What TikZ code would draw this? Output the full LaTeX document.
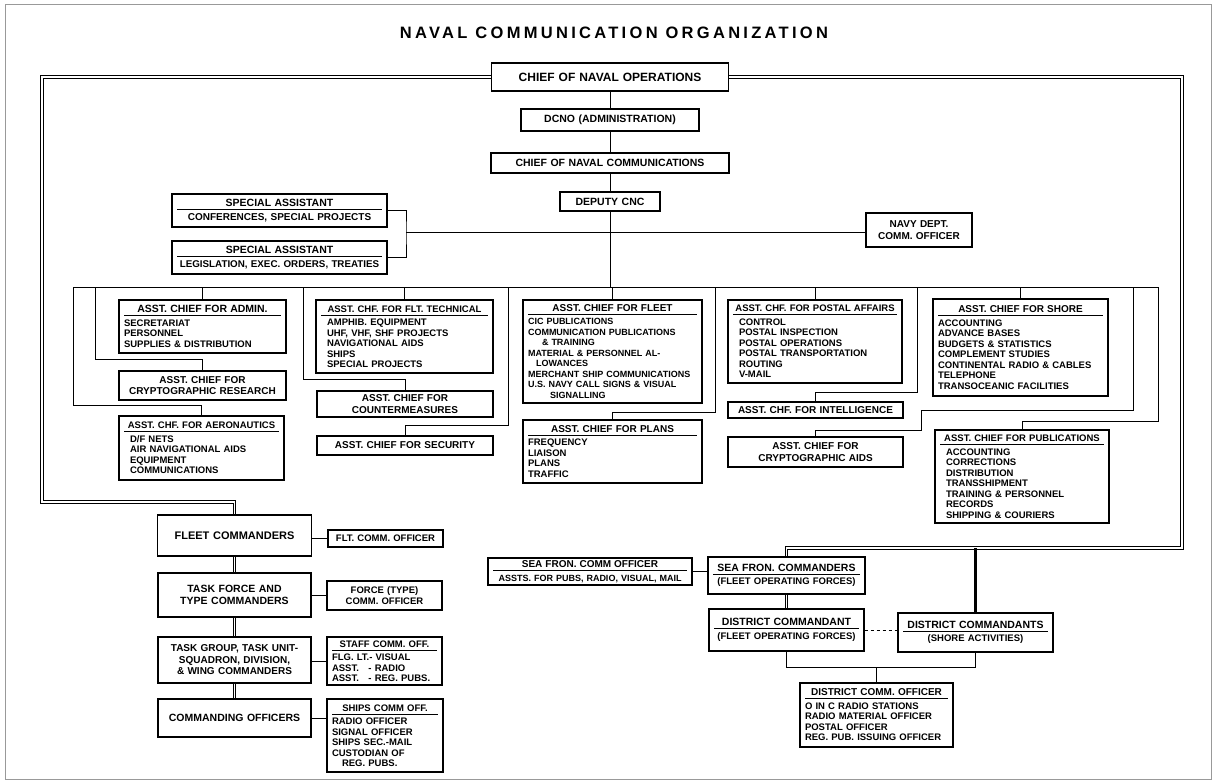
\documentclass[tikz,border=0pt]{standalone}
\usepackage{fontspec}
\setmainfont{Liberation Sans}
\newfontfamily\headfont{Liberation Sans}[LetterSpace=20]
\newcommand{\hd}[2][10]{\rlap{\rule[-3.2pt]{\hsize}{0.7pt}}\makebox[\hsize]{\fontsize{#1}{#1}\selectfont#2}\\[3pt]}
\newcommand{\ind}{\hspace*{6pt}}
\tikzset{
  bx/.style 2 args={draw, line width=1.1pt, inner xsep=5pt, inner ysep=1pt,
    text width=#1pt, minimum height=#2pt, align=center,
    font=\bfseries\fontsize{9.5}{10.5}\selectfont},
  lst/.style={align=left},
  sml/.style={font=\bfseries\fontsize{9}{10.5}\selectfont},
  big/.style={font=\bfseries\fontsize{10.5}{12.5}\selectfont},
  mid/.style={font=\bfseries\fontsize{10}{11.5}\selectfont},
  ln/.style={line width=1pt},
  dbl/.style={double, line width=0.9pt, double distance=1.8pt},
}

\begin{document}
\begin{tikzpicture}[x=1pt,y=-1pt]
\useasboundingbox (0,0) rectangle (1216,784);
\draw[black!40, line width=1pt] (5,5) rectangle (1211,779);
\node (ttl) at (614,33) {\headfont\bfseries\fontsize{16.5}{18}\selectfont NAVAL COMMUNICATION ORGANIZATION};

\node[bx={227}{28}, font=\bfseries\fontsize{12}{14}\selectfont] (cno) at (610,77) {CHIEF OF NAVAL OPERATIONS};
\node[bx={168}{22}, big] (dcno) at (610,120) {DCNO (ADMINISTRATION)};
\node[bx={228}{20}, big] (cnc) at (610,163) {CHIEF OF NAVAL COMMUNICATIONS};
\node[bx={90}{19}, big] (dep) at (610,201.5) {DEPUTY CNC};

\node[bx={205}{33}, mid] (sa1) at (279.5,210.5) {\hd[10.5]{SPECIAL ASSISTANT}CONFERENCES, SPECIAL PROJECTS};
\node[bx={205}{33}, font=\bfseries\fontsize{9.8}{11}\selectfont] (sa2) at (279.5,257.5) {\hd[10.5]{SPECIAL ASSISTANT}LEGISLATION, EXEC. ORDERS, TREATIES};
\node[bx={96}{34}, mid] (navy) at (919,230) {NAVY DEPT.\\COMM. OFFICER};

\node[bx={157}{53}, lst] (admin) at (202.5,326.5) {\hd[10.5]{ASST. CHIEF FOR ADMIN.}SECRETARIAT\\PERSONNEL\\SUPPLIES \& DISTRIBUTION};
\node[bx={157}{29}, mid] (cres) at (202.5,385.5) {ASST. CHIEF FOR\\CRYPTOGRAPHIC RESEARCH};
\node[bx={155}{64}, lst] (aero) at (201.5,448) {\hd[9.5]{ASST. CHF. FOR AERONAUTICS}\ind D/F NETS\\\ind AIR NAVIGATIONAL AIDS\\\ind EQUIPMENT\\\ind COMMUNICATIONS};

\node[bx={167}{73}, lst] (ftech) at (404.5,336.5) {\hd[9.5]{ASST. CHF. FOR FLT. TECHNICAL}\ind AMPHIB. EQUIPMENT\\\ind UHF, VHF, SHF PROJECTS\\\ind NAVIGATIONAL AIDS\\\ind SHIPS\\\ind SPECIAL PROJECTS};
\node[bx={166}{26}, mid] (cmeas) at (405,404) {ASST. CHIEF FOR\\COUNTERMEASURES};
\node[bx={166}{19}, mid] (sec) at (405,445.5) {ASST. CHIEF FOR SECURITY};

\node[bx={169}{103}, lst, sml] (fleet) at (612.5,351.5) {\hd[10]{ASST. CHIEF FOR FLEET}CIC PUBLICATIONS\\COMMUNICATION PUBLICATIONS\\\hspace*{14pt}\& TRAINING\\MATERIAL \& PERSONNEL AL-\\\hspace*{8pt}LOWANCES\\MERCHANT SHIP COMMUNICATIONS\\U.S. NAVY CALL SIGNS \& VISUAL\\\hspace*{22pt}SIGNALLING};
\node[bx={169}{63}, lst] (plans) at (612.5,451.5) {\hd[10]{ASST. CHIEF FOR PLANS}FREQUENCY\\LIAISON\\PLANS\\TRAFFIC};

\node[bx={164}{83}, lst] (postal) at (815,341.5) {\hd[9.5]{ASST. CHF. FOR POSTAL AFFAIRS}\ind CONTROL\\\ind POSTAL INSPECTION\\\ind POSTAL OPERATIONS\\\ind POSTAL TRANSPORTATION\\\ind ROUTING\\\ind V-MAIL};
\node[bx={165}{16}, mid] (intel) at (815.5,410) {ASST. CHF. FOR INTELLIGENCE};
\node[bx={165}{30}, mid] (caids) at (815.5,452) {ASST. CHIEF FOR\\CRYPTOGRAPHIC AIDS};

\node[bx={165}{97}, lst] (shore) at (1020.5,347.5) {\hd[10]{ASST. CHIEF FOR SHORE}ACCOUNTING\\ADVANCE BASES\\BUDGETS \& STATISTICS\\COMPLEMENT STUDIES\\CONTINENTAL RADIO \& CABLES\\TELEPHONE\\TRANSOCEANIC FACILITIES};
\node[bx={164}{93}, lst] (pubs) at (1022,476.5) {\hd[9.5]{ASST. CHIEF FOR PUBLICATIONS}\ind ACCOUNTING\\\ind CORRECTIONS\\\ind DISTRIBUTION\\\ind TRANSSHIPMENT\\\ind TRAINING \& PERSONNEL\\\ind RECORDS\\\ind SHIPPING \& COURIERS};

\node[bx={144}{41}, font=\bfseries\fontsize{11}{13}\selectfont] (fcdr) at (234.5,535.5) {FLEET COMMANDERS};
\node[bx={105}{17}] (fltco) at (385.5,538.5) {FLT. COMM. OFFICER};
\node[bx={143}{44}, big] (tforce) at (234.5,595) {TASK FORCE AND\\TYPE COMMANDERS};
\node[bx={105}{29}] (fco) at (384.5,595.5) {FORCE (TYPE)\\COMM. OFFICER};
\node[bx={143}{46}, mid] (tgroup) at (234.5,660) {TASK GROUP, TASK UNIT-\\SQUADRON, DIVISION,\\\& WING COMMANDERS};
\node[bx={105}{48}, lst] (staff) at (384.5,661) {\hd[9.5]{STAFF COMM. OFF.}FLG. LT.- VISUAL\\ASST.\quad- RADIO\\ASST.\quad- REG. PUBS.};
\node[bx={143}{38}, big] (cmdo) at (234.5,718) {COMMANDING OFFICERS};
\node[bx={106}{73}, lst] (ships) at (385,735.5) {\hd[9.5]{SHIPS COMM OFF.}RADIO OFFICER\\SIGNAL OFFICER\\SHIPS SEC.-MAIL\\CUSTODIAN OF\\\hspace*{10pt}REG. PUBS.};

\node[bx={147}{37}] (sfc) at (786.5,575.5) {\hd[10.5]{SEA FRON. COMMANDERS}(FLEET OPERATING FORCES)};
\node[bx={194}{27}, sml] (sfo) at (590,571.5) {\hd[10]{SEA FRON. COMM OFFICER}ASSTS. FOR PUBS, RADIO, VISUAL, MAIL};
\node[bx={145}{42}] (dcdt) at (786.5,630) {\hd[10.5]{DISTRICT COMMANDANT}(FLEET OPERATING FORCES)};
\node[bx={145}{39}] (dcts) at (975.5,632.5) {\hd[10.5]{DISTRICT COMMANDANTS}(SHORE ACTIVITIES)};
\node[bx={143}{64}, lst] (dco) at (876.5,715) {\hd[10]{DISTRICT COMM. OFFICER}O IN C RADIO STATIONS\\RADIO MATERIAL OFFICER\\POSTAL OFFICER\\REG. PUB. ISSUING OFFICER};

\coordinate (frL) at (42,502);
\coordinate (frR) at (1182,548);
\coordinate (sak) at (406,232);
\foreach \n/\x in {a/73,b/95,c/303,d/508,e/715,f/917,g/1133,h/1158}
  \coordinate (bus\n) at (\x,287);

\draw[ln] (cno) -- (dcno) (dcno) -- (cnc) (cnc) -- (dep);
\draw[ln] (dep) -- (dep |- busa);
\draw[ln] (busa) -- (bush);
\draw[ln] (sa1.east) -| (sak) |- (sa2.east);
\draw[ln] (sak) -- (sak -| navy.west);
\foreach \b in {admin,ftech,fleet,postal,shore}
  \draw[ln] (\b) -- (\b |- busa);
\draw[ln] (busa) |- ([yshift=10pt]aero.north) -- (aero);
\draw[ln] (busb) |- ([yshift=11pt]cres.north) -- (cres);
\draw[ln] (busc) |- ([yshift=11pt]cmeas.north) -- (cmeas);
\draw[ln] (busd) |- ([yshift=10pt]sec.north) -- (sec);
\draw[ln] (buse) |- ([yshift=7pt]plans.north) -- (plans);
\draw[ln] (busf) |- ([yshift=9pt]intel.north) -- (intel);
\draw[ln] (busg) |- (921,410) |- ([yshift=6pt]caids.north) -- (caids);
\draw[ln] (bush) |- ([yshift=8pt]pubs.north) -- (pubs);

\draw[dbl] (cno.west) -| (frL) -| (fcdr.north);
\draw[dbl] (cno.east) -| (frR) -| (sfc.north);
\draw[line width=2.4pt] (dcts.north) -- (dcts.north |- frR);

\draw[dbl] (fcdr) -- (tforce) (tforce) -- (tgroup) (tgroup) -- (cmdo);
\draw[ln] (fcdr.east |- fltco) -- (fltco);
\draw[ln] (tforce.east |- fco) -- (fco);
\draw[ln] (tgroup.east |- staff) -- (staff);
\draw[ln] (cmdo) -- (cmdo -| ships.west);

\draw[ln] (sfo) -- (sfo -| sfc.west);
\draw[dbl] (sfc) -- (dcdt);
\draw[ln, dashed] (dcdt) -- (dcdt -| dcts.west);
\draw[ln] (dcdt.south) |- ([yshift=15pt]dco.north) -| (dcts.south);
\draw[ln] ([yshift=15pt]dco.north) -- (dco);
\end{tikzpicture}
\end{document}
